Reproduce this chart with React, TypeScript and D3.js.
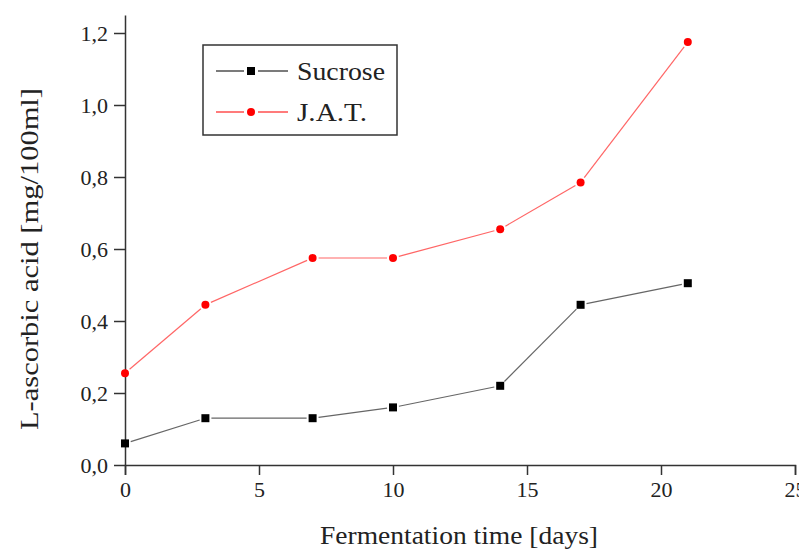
import React, { useEffect, useRef } from "react";
import * as d3 from "d3";

const days = [0, 3, 7, 10, 14, 17, 21];
const sucrose = [0.06, 0.13, 0.13, 0.16, 0.22, 0.445, 0.505];
const jat = [0.255, 0.445, 0.575, 0.575, 0.655, 0.785, 1.175];
const xTicks = [0, 5, 10, 15, 20, 25];
const yTicks = [0, 0.2, 0.4, 0.6, 0.8, 1.0, 1.2];

const App = () => {
  const container = useRef<SVGSVGElement | null>(null);

  useEffect(() => {
    const width = 807;
    const height = 553;
    const font = "'Liberation Serif', 'DejaVu Serif', serif";

    const x = d3.scaleLinear().domain([0, 25]).range([125, 795]);
    const y = d3.scaleLinear().domain([0, 1.25]).range([465, 15]);

    const svg = d3.select(container.current);
    svg.selectAll("*").remove();
    svg.attr("width", width).attr("height", height).attr("viewBox", [0, 0, width, height]);

    const axisColor = "#333";

    // x axis
    const gx = svg.append("g").attr("transform", `translate(0,${y(0)})`);
    gx.call(
      d3.axisBottom(x).tickValues(d3.range(0, 25.01, 2.5)).tickSize(6).tickFormat(() => "")
    );
    gx.call(
      d3.axisBottom(x).tickValues(xTicks).tickSize(10).tickPadding(6).tickFormat(d3.format("d"))
    );
    gx.selectAll("path.domain").attr("stroke", axisColor).attr("stroke-width", 1.5);
    gx.selectAll("line").attr("stroke", axisColor).attr("stroke-width", 1.5);
    gx.selectAll("text")
      .attr("fill", "#222")
      .style("font-family", font)
      .style("font-size", "22px");

    // y axis
    const fmt = (v: number) => d3.format(".1f")(v).replace(".", ",");
    const gy = svg.append("g").attr("transform", `translate(${x(0)},0)`);
    gy.call(
      d3.axisLeft(y).tickValues(d3.range(0, 1.26, 0.1)).tickSize(7).tickSizeOuter(0).tickFormat(() => "")
    );
    gy.call(
      d3.axisLeft(y).tickValues(yTicks).tickSize(11).tickSizeOuter(0).tickPadding(6).tickFormat((d) => fmt(+d))
    );
    gy.selectAll("path.domain").attr("stroke", axisColor).attr("stroke-width", 1.5);
    gy.selectAll("line").attr("stroke", axisColor).attr("stroke-width", 1.5);
    gy.selectAll("text")
      .attr("fill", "#222")
      .style("font-family", font)
      .style("font-size", "22px");

    // axis titles
    svg
      .append("text")
      .attr("x", 459)
      .attr("y", 544)
      .attr("text-anchor", "middle")
      .attr("fill", "#222")
      .attr("textLength", 278)
      .attr("lengthAdjust", "spacingAndGlyphs")
      .style("font-family", font)
      .style("font-size", "25px")
      .text("Fermentation time [days]");

    svg
      .append("text")
      .attr("transform", `translate(38,259) rotate(-90)`)
      .attr("text-anchor", "middle")
      .attr("fill", "#222")
      .attr("textLength", 342)
      .attr("lengthAdjust", "spacingAndGlyphs")
      .style("font-family", font)
      .style("font-size", "25px")
      .text("L-ascorbic acid [mg/100ml]");

    // series with gaps near markers
    const gap = 6;
    const drawSeries = (vals: number[], color: string, marker: "square" | "circle") => {
      const pts = days.map((d, i) => [x(d), y(vals[i])] as [number, number]);
      const g = svg.append("g");
      for (let i = 0; i < pts.length - 1; i++) {
        const [x1, y1] = pts[i];
        const [x2, y2] = pts[i + 1];
        const len = Math.hypot(x2 - x1, y2 - y1);
        const ux = (x2 - x1) / len;
        const uy = (y2 - y1) / len;
        g.append("line")
          .attr("x1", x1 + ux * gap)
          .attr("y1", y1 + uy * gap)
          .attr("x2", x2 - ux * gap)
          .attr("y2", y2 - uy * gap)
          .attr("stroke", color)
          .attr("stroke-width", 1.2);
      }
      if (marker === "square") {
        g.selectAll("rect.m")
          .data(pts)
          .join("rect")
          .attr("x", (p) => p[0] - 4)
          .attr("y", (p) => p[1] - 4)
          .attr("width", 8)
          .attr("height", 8)
          .attr("fill", "#000");
      } else {
        g.selectAll("circle.m")
          .data(pts)
          .join("circle")
          .attr("cx", (p) => p[0])
          .attr("cy", (p) => p[1])
          .attr("r", 4)
          .attr("fill", "#ff0000");
      }
    };

    drawSeries(sucrose, "#666", "square");
    drawSeries(jat, "#ff6666", "circle");

    // legend
    const lg = svg.append("g");
    lg.append("rect")
      .attr("x", 203)
      .attr("y", 45)
      .attr("width", 194)
      .attr("height", 90)
      .attr("fill", "white")
      .attr("stroke", "#333")
      .attr("stroke-width", 1.5);
    const items = [
      { name: "Sucrose", color: "#333", marker: "square", yy: 71, len: 88 },
      { name: "J.A.T.", color: "#ff3333", marker: "circle", yy: 112, len: 70 },
    ];
    items.forEach((it) => {
      lg.append("line").attr("x1", 216).attr("x2", 244).attr("y1", it.yy).attr("y2", it.yy)
        .attr("stroke", it.color).attr("stroke-width", 1.3);
      lg.append("line").attr("x1", 258).attr("x2", 288).attr("y1", it.yy).attr("y2", it.yy)
        .attr("stroke", it.color).attr("stroke-width", 1.3);
      if (it.marker === "square") {
        lg.append("rect").attr("x", 247).attr("y", it.yy - 4).attr("width", 8).attr("height", 8).attr("fill", "#000");
      } else {
        lg.append("circle").attr("cx", 251).attr("cy", it.yy).attr("r", 4).attr("fill", "#ff0000");
      }
      lg.append("text")
        .attr("x", 297)
        .attr("y", it.yy + 9)
        .attr("fill", "#222")
        .attr("textLength", it.len)
        .attr("lengthAdjust", "spacingAndGlyphs")
        .style("font-family", font)
        .style("font-size", "25px")
        .text(it.name);
    });
  }, []);

  return (
    <div style={{ margin: -8 }}>
      <svg ref={container}></svg>
    </div>
  );
};

export default App;
